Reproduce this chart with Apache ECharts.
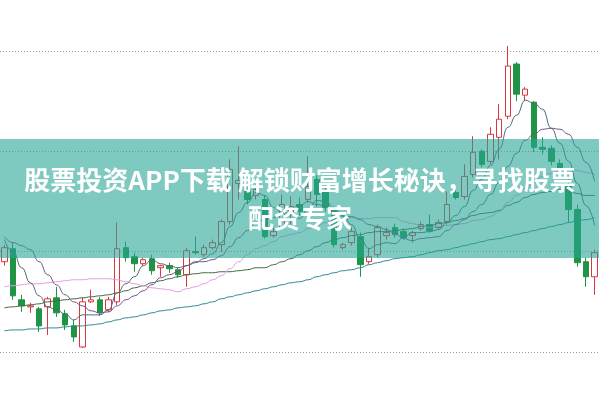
<!DOCTYPE html>
<html><head><meta charset="utf-8">
<script src="https://cdn.jsdelivr.net/npm/echarts@6/dist/echarts.min.js"></script>
<style>html,body{margin:0;padding:0;background:#fff}#c{width:599px;height:399px}</style>
</head><body><div id="c"></div>
<script>
// ---- data (prices) ----
const categories = Array.from({length: 69}, (_, i) => 'D' + (i + 1));
const opens = [5.90,6.03,5.52,5.45,5.43,5.45,5.54,5.38,5.26,5.05, 5.50,5.52,5.42,5.50,6.04,5.95,5.88,5.93,5.84,5.86, 5.82,5.77,6.00,5.97,6.04,6.07,6.30,6.68,6.62,6.56, 6.52,6.16,6.24,6.37,6.47,6.52,6.72,6.60,6.42,6.04, 6.09,6.15,5.90,5.97,6.16,6.24,6.20,6.16,6.23,6.27, 6.24,6.30,6.59,6.55,6.77,7.00,6.90,7.14,7.35,7.87, 7.56,7.49,7.04,7.03,6.88,6.65,6.42,5.90,5.75];
const closes = [6.04,5.56,5.46,5.46,5.26,5.53,5.39,5.27,5.15,5.50, 5.52,5.39,5.52,6.03,5.94,5.88,5.92,5.81,5.86,5.83, 5.77,6.01,5.99,6.04,6.09,6.30,6.82,6.71,6.52,6.62, 6.15,6.20,6.47,6.45,6.40,6.65,6.57,6.44,6.07,6.07, 6.20,5.87,5.95,6.24,6.19,6.17,6.14,6.19,6.27,6.21, 6.29,6.47,6.54,6.75,6.99,6.87,7.17,7.32,7.85,7.57, 7.62,7.04,7.02,6.90,6.81,6.42,5.89,5.75,5.99];
const lows = [5.86,5.52,5.40,5.39,5.20,5.17,5.35,5.22,5.10,5.04, 5.49,5.36,5.40,5.47,5.90,5.80,5.86,5.77,5.75,5.79, 5.74,5.65,5.97,5.95,6.02,6.00,6.27,6.52,6.47,6.52, 6.13,6.14,6.22,6.27,6.36,6.49,6.45,6.40,6.04,6.02, 6.06,5.75,5.88,5.94,6.12,6.14,6.12,6.09,6.21,6.19, 6.22,6.27,6.52,6.52,6.74,6.84,6.87,6.92,7.32,7.50, 7.50,6.99,6.97,6.86,6.77,6.29,5.85,5.65,5.57];
const highs = [6.07,6.09,5.57,5.49,5.45,5.55,5.65,5.42,5.32,5.54, 5.62,5.55,5.55,6.29,6.10,5.99,5.94,5.97,5.87,5.89, 5.84,6.04,6.15,6.07,6.12,6.32,6.92,7.05,6.66,6.64, 6.56,6.24,6.57,6.55,6.54,6.95,6.76,6.64,6.45,6.09, 6.25,6.19,6.04,6.27,6.24,6.28,6.23,6.21,6.30,6.37, 6.32,6.60,6.62,6.87,7.15,7.02,7.24,7.47,8.05,7.89, 7.64,7.50,7.14,7.06,6.92,6.72,6.47,5.94,6.02];
const ma5 = [6.12,6.00,5.84,5.69,5.56,5.45,5.42,5.38,5.32,5.37, 5.37,5.37,5.42,5.59,5.68,5.75,5.86,5.92,5.88,5.86, 5.84,5.86,5.89,5.93,5.98,6.09,6.25,6.39,6.49,6.59, 6.56,6.44,6.39,6.38,6.33,6.43,6.51,6.50,6.43,6.36, 6.27,6.13,6.03,6.07,6.09,6.08,6.14,6.19,6.19,6.20, 6.22,6.29,6.36,6.45,6.61,6.72,6.86,7.02,7.24,7.36, 7.51,7.48,7.42,7.23,7.08,6.90,6.68,6.46,6.26];
const ma10 = [6.15,6.09,6.06,6.02,5.90,5.77,5.67,5.57,5.50,5.46, 5.41,5.39,5.40,5.46,5.52,5.56,5.61,5.67,5.74,5.77, 5.80,5.86,5.90,5.90,5.92,5.96,6.05,6.14,6.21,6.29, 6.32,6.34,6.39,6.43,6.46,6.50,6.47,6.45,6.40,6.35, 6.35,6.32,6.27,6.25,6.22,6.18,6.13,6.11,6.13,6.14, 6.15,6.21,6.27,6.32,6.40,6.47,6.57,6.69,6.85,6.98, 7.11,7.17,7.22,7.23,7.22,7.17,7.04,6.89,6.70];
const ma20 = [5.65,5.66,5.67,5.68,5.68,5.69,5.70,5.71,5.72,5.72, 5.73,5.73,5.73,5.72,5.70,5.68,5.66,5.64,5.63,5.62, 5.60,5.63,5.65,5.68,5.72,5.76,5.83,5.90,5.97,6.03, 6.06,6.10,6.15,6.17,6.19,6.23,6.26,6.29,6.31,6.32, 6.34,6.33,6.33,6.34,6.34,6.34,6.30,6.28,6.26,6.24, 6.25,6.26,6.27,6.28,6.31,6.32,6.35,6.40,6.49,6.56, 6.63,6.69,6.75,6.78,6.81,6.82,6.81,6.79,6.77];
const ma30 = [5.44,5.45,5.46,5.47,5.48,5.50,5.51,5.52,5.53,5.54, 5.55,5.56,5.57,5.59,5.61,5.64,5.66,5.69,5.71,5.73, 5.75,5.77,5.78,5.79,5.79,5.80,5.80,5.81,5.82,5.84, 5.84,5.87,5.90,5.93,5.97,6.01,6.05,6.09,6.12,6.14, 6.16,6.17,6.19,6.20,6.20,6.21,6.22,6.23,6.25,6.26, 6.28,6.29,6.31,6.33,6.36,6.38,6.39,6.41,6.46,6.49, 6.54,6.57,6.59,6.60,6.62,6.61,6.58,6.56,6.56];
const ma60 = [5.21,5.22,5.22,5.23,5.23,5.24,5.24,5.25,5.26,5.26, 5.27,5.28,5.30,5.32,5.34,5.35,5.37,5.39,5.41,5.42, 5.44,5.45,5.46,5.48,5.50,5.53,5.55,5.57,5.59,5.61, 5.63,5.65,5.67,5.69,5.70,5.72,5.75,5.77,5.79,5.81, 5.82,5.84,5.87,5.89,5.91,5.93,5.94,5.95,5.97,5.99, 6.01,6.02,6.04,6.06,6.08,6.10,6.12,6.13,6.15,6.17, 6.19,6.21,6.23,6.25,6.27,6.29,6.31,6.32,6.34];
const yTicks = [5, 6, 7, 8];
const bannerLine1 = '股票投资APP下载 解锁财富增长秘诀，寻找股票';
const bannerLine2 = '配资专家';

const kData = opens.map((o, i) => [o, closes[i], lows[i], highs[i]]);
const chart = echarts.init(document.getElementById('c'), null, {renderer: 'canvas'});
function ma(name, data, color) {
  return {name, type: 'line', data, symbol: 'none', smooth: true, smoothMonotone: 'x',
    lineStyle: {color, width: 1}, z: 3, animation: false};
}
chart.setOption({
  animation: false,
  backgroundColor: '#ffffff',
  grid: {left: -1, width: 602, top: 51, height: 301},
  xAxis: {type: 'category', data: categories, boundaryGap: true,
    axisLine: {show: false}, axisTick: {show: false}, axisLabel: {show: false}, splitLine: {show: false}},
  yAxis: {type: 'value', min: yTicks[0], max: yTicks[yTicks.length - 1], interval: 1,
    axisLine: {show: false}, axisTick: {show: false}, axisLabel: {show: false},
    splitLine: {show: true, showMinLine: true, showMaxLine: true, lineStyle: {color: '#9c9c9c', width: 1, type: [1, 2]}}},
  series: [
    {type: 'candlestick', data: kData, barWidth: 6, clip: false, z: 2,
      itemStyle: {color: '#ffffff', color0: '#1e9444', borderColor: '#d9363e', borderColor0: '#1e9444', borderWidth: 1}},
    ma('MA60', ma60, '#2f8796'),
    ma('MA30', ma30, '#45693f'),
    ma('MA20', ma20, '#e69be4'),
    ma('MA10', ma10, '#75538a'),
    ma('MA5', ma5, '#4a6a78')
  ],
  graphic: [
    {type: 'rect', left: 0, top: 139, z: 100, shape: {width: 599, height: 119},
      style: {fill: 'rgba(40,165,150,0.6)'}},
    {type: 'text', x: 300, y: 180, z: 101,
      style: {text: bannerLine1, fill: '#ffffff', font: 'bold 26px "Noto Sans CJK SC"', textAlign: 'center', textVerticalAlign: 'middle'}},
    {type: 'text', x: 300, y: 218, z: 101,
      style: {text: bannerLine2, fill: '#ffffff', font: 'bold 26px "Noto Sans CJK SC"', textAlign: 'center', textVerticalAlign: 'middle'}}
  ]
});
</script>
</body></html>
